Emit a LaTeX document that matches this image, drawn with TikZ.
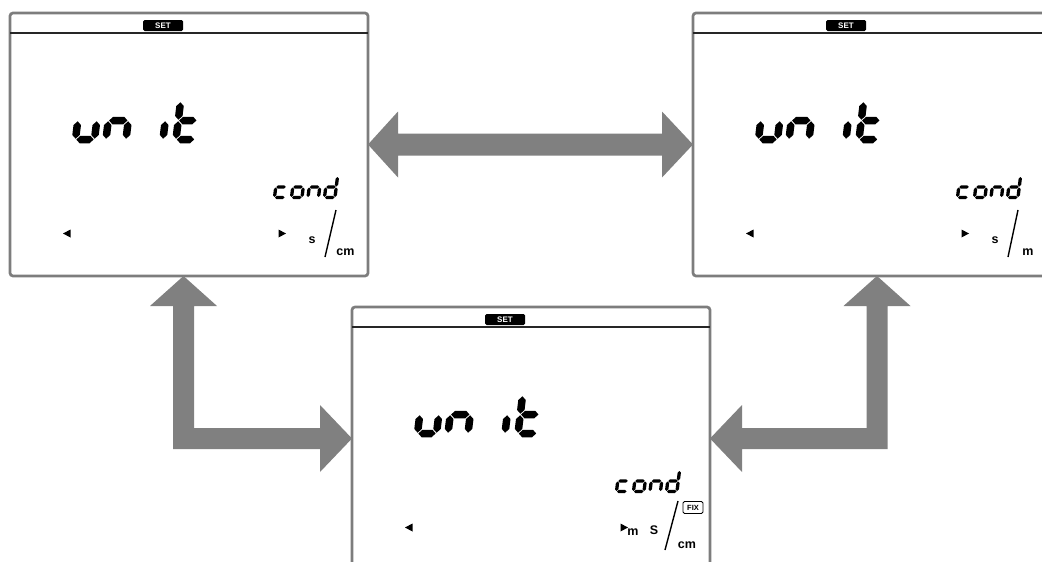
\documentclass[tikz,border=0pt]{standalone}
\usepackage{fontspec}
\setmainfont{Liberation Sans}
\usetikzlibrary{calc}
\definecolor{panelgray}{RGB}{125,125,125}
\definecolor{arrowgray}{RGB}{128,128,128}
\tikzset{
  panelbox/.style={draw=panelgray, line width=2.7pt, rounded corners=3pt, fill=white,
    minimum width=358pt, minimum height=263pt, anchor=north west, inner sep=0pt, outer sep=0pt},
  setlabel/.style={fill=black, text=white, font=\bfseries\fontsize{8}{8}\selectfont,
    rounded corners=1.5pt, minimum width=40pt, minimum height=11pt, inner sep=0pt},
  sepline/.style={draw=black!85, line width=1.5pt},
  unittxt/.style={font=\bfseries\fontsize{12.5}{12.5}\selectfont, inner sep=0pt},
  fixbox/.style={draw=black, line width=0.8pt, rounded corners=1.5pt, font=\bfseries\fontsize{7.5}{7.5}\selectfont,
    minimum width=20pt, minimum height=12pt, inner sep=0pt},
  slashline/.style={line width=1.4pt},
  blockarrow/.style={fill=arrowgray},
}
% seven-segment drawing helpers
\newcommand\dsH[3]{\fill (#1+\segg,#3) -- (#1+\segg+0.5*\segt,#3+0.5*\segt) -- (#2-\segg-0.5*\segt,#3+0.5*\segt) -- (#2-\segg,#3) -- (#2-\segg-0.5*\segt,#3-0.5*\segt) -- (#1+\segg+0.5*\segt,#3-0.5*\segt) -- cycle;}
\newcommand\dsV[3]{\fill (#1,#2+\segg) -- (#1+0.5*\segt,#2+\segg+0.5*\segt) -- (#1+0.5*\segt,#3-\segg-0.5*\segt) -- (#1,#3-\segg) -- (#1-0.5*\segt,#3-\segg-0.5*\segt) -- (#1-0.5*\segt,#2+\segg+0.5*\segt) -- cycle;}
\newcommand\sgA{\dsH{0}{\segw}{\segh}}
\newcommand\sgB{\dsV{\segw}{\segh/2}{\segh}}
\newcommand\sgC{\dsV{\segw}{0}{\segh/2}}
\newcommand\sgD{\dsH{0}{\segw}{0}}
\newcommand\sgE{\dsV{0}{0}{\segh/2}}
\newcommand\sgF{\dsV{0}{\segh/2}{\segh}}
\newcommand\sgG{\dsH{0}{\segw}{\segh/2}}
\newcommand\lcddigit[4]{\def\segw{#3}\begin{scope}[shift={(#1,#2)},xslant=0.12,yscale=-1]#4\end{scope}}
% one LCD panel: name, x shift, y shift
\newcommand\lcdpanel[3]{%
  \node[panelbox] (#1) at (10+#2,13+#3) {};
  \draw[sepline] ($(#1.north west)+(0,20)$) -- ($(#1.north east)+(0,20)$);
  \begin{scope}[shift={(#2,#3)}]
    \node[setlabel] (#1set) at (163,25.5) {SET};
    \def\segt{7.5}\def\segg{0.8}\def\segh{38}
    \lcddigit{75.5}{139.5}{19}{\sgC\sgD\sgE}
    \lcddigit{106}{139.5}{20}{\sgC\sgE\sgG}
    \lcddigit{163}{139.5}{18}{\sgE}
    \lcddigit{176}{139.5}{19}{\sgD\sgE\sgF\sgG}
    \def\segt{3.3}\def\segg{0.5}\def\segh{21}
    \lcddigit{274.5}{197.5}{10.5}{\sgD\sgE\sgG}
    \lcddigit{291.5}{197.5}{10.5}{\sgC\sgD\sgE\sgG}
    \lcddigit{308}{197.5}{10.5}{\sgC\sgE\sgG}
    \lcddigit{324.5}{197.5}{10.5}{\sgB\sgC\sgD\sgE\sgG}
    \fill (63,233.5) -- (70.5,229.5) -- (70.5,237.5) -- cycle;
    \fill (286,233.5) -- (278.5,229.5) -- (278.5,237.5) -- cycle;
  \end{scope}}
\begin{document}
\begin{tikzpicture}[x=1pt,y=-1pt]
\useasboundingbox (0,0) rectangle (1042,562);
\clip (0,0) rectangle (1042,562);
\fill[white] (0,0) rectangle (1042,562);

\lcdpanel{L}{0}{0}
\lcdpanel{R}{683}{0}
\lcdpanel{B}{342}{294}

% units, left panel
\node[unittxt] (Ls) at (312,240) {s};
\draw[slashline] (325,257) -- (336,210);
\node[unittxt] (Lcm) at (345.5,252.5) {cm};
% units, right panel
\begin{scope}[shift={(683,0)}]
\node[unittxt] (Rs) at (312,240) {s};
\draw[slashline] (325,257) -- (335,210);
\node[unittxt] (Rm) at (345,252) {m};
\end{scope}
% units, bottom panel
\begin{scope}[shift={(342,294)}]
\node[unittxt] (Bm) at (291,238) {m};
\node[unittxt] (BS) at (312,236) {S};
\draw[slashline] (323,256) -- (336,207);
\node[fixbox] (Bfix) at (351,213.5) {FIX};
\node[unittxt] (Bcm) at (345,251) {cm};
\end{scope}

% connectors
\coordinate (La) at ($(L.south west)+(173.5,0)$);
\coordinate (Ra) at ($(R.south west)+(184,0)$);

\fill[blockarrow] let \p1=(L.east), \p2=(R.west) in
  (\p1) -- ({\x1+30pt},{\y1+33pt}) -- ({\x1+30pt},{\y1+11pt}) -- ({\x2-31pt},{\y1+11pt})
  -- ({\x2-31pt},{\y1+33pt}) -- (\p2) -- ({\x2-31pt},{\y2-33pt}) -- ({\x2-31pt},{\y2-11pt})
  -- ({\x1+30pt},{\y1-11pt}) -- ({\x1+30pt},{\y1-33pt}) -- cycle;

\fill[blockarrow] let \p1=(La), \p2=(B.west) in
  (\p1) -- ({\x1+33.5pt},{\y1-30pt}) -- ({\x1+10.5pt},{\y1-30pt}) -- ({\x1+10.5pt},{\y2+10.5pt})
  -- ({\x2-32pt},{\y2+10.5pt}) -- ({\x2-32pt},{\y2+33.5pt}) -- (\p2) -- ({\x2-32pt},{\y2-33.5pt})
  -- ({\x2-32pt},{\y2-10.5pt}) -- ({\x1-10.5pt},{\y2-10.5pt}) -- ({\x1-10.5pt},{\y1-30pt})
  -- ({\x1-33.5pt},{\y1-30pt}) -- cycle;

\fill[blockarrow] let \p1=(Ra), \p2=(B.east) in
  (\p1) -- ({\x1+33.5pt},{\y1-30pt}) -- ({\x1+10.5pt},{\y1-30pt}) -- ({\x1+10.5pt},{\y2-10.5pt})
  -- ({\x2+32pt},{\y2-10.5pt}) -- ({\x2+32pt},{\y2-33.5pt}) -- (\p2) -- ({\x2+32pt},{\y2+33.5pt})
  -- ({\x2+32pt},{\y2+10.5pt}) -- ({\x1-10.5pt},{\y2+10.5pt}) -- ({\x1-10.5pt},{\y1-30pt})
  -- ({\x1-33.5pt},{\y1-30pt}) -- cycle;
\end{tikzpicture}
\end{document}
